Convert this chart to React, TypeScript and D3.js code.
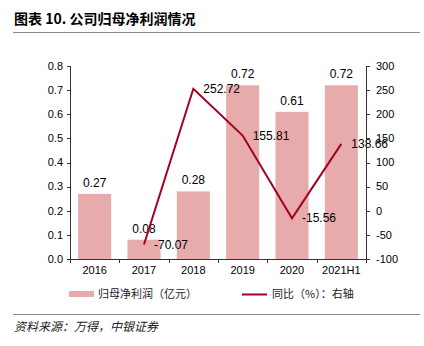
import React from "react";
import * as d3 from "d3";

const categories = ["2016", "2017", "2018", "2019", "2020", "2021H1"];
const profit = [0.27, 0.08, 0.28, 0.72, 0.61, 0.72];
const yoy: (number | null)[] = [null, -70.07, 252.72, 155.81, -15.56, 138.66];
const leftTicks = [0, 0.1, 0.2, 0.3, 0.4, 0.5, 0.6, 0.7, 0.8];
const rightTicks = [-100, -50, 0, 50, 100, 150, 200, 250, 300];

const W = 424, H = 346;
const m = { l: 70, r: 366, t: 66, b: 259 };
const BAR = "#E8ABAB";
const LINE = "#A50021";
const FONT = "Arial, 'Liberation Sans', sans-serif";
const CJK = "'Noto Sans CJK SC', sans-serif";

export default function App() {
  const x = d3.scaleBand<string>().domain(categories).range([m.l, m.r]).paddingInner(0.33).paddingOuter(0.165);
  const xb = d3.scaleBand<string>().domain(categories).range([m.l, m.r]);
  const yl = d3.scaleLinear().domain([0, 0.8]).range([m.b, m.t]);
  const yr = d3.scaleLinear().domain([-100, 300]).range([m.b, m.t]);
  const pts = categories
    .map((c, i) => ({ c, v: yoy[i] }))
    .filter((d) => d.v !== null) as { c: string; v: number }[];
  const line = d3
    .line<{ c: string; v: number }>()
    .x((d) => (xb(d.c) as number) + xb.bandwidth() / 2)
    .y((d) => yr(d.v));
  return (
    <svg width={W} height={H} style={{ position: "absolute", left: 0, top: 0, background: "#fff" }}>
      <text x={14} y={24} fontFamily={CJK} fontWeight="bold" fontSize={14} fill="#000">
        图表 10. 公司归母净利润情况
      </text>
      <line x1={13} x2={420} y1={32.5} y2={32.5} stroke="#888" strokeWidth={1.2} />
      {categories.map((c, i) => (
        <g key={c}>
          <rect x={x(c)} y={yl(profit[i])} width={x.bandwidth()} height={m.b - yl(profit[i])} fill={BAR} />
          <text x={(x(c) as number) + x.bandwidth() / 2} y={yl(profit[i]) - 7} textAnchor="middle" fontFamily={FONT} fontSize={12} fill="#000">
            {profit[i].toFixed(2)}
          </text>
        </g>
      ))}
      <path d={line(pts) || ""} fill="none" stroke={LINE} strokeWidth={2} />
      {pts.map((d) => (
        <text key={d.c} x={(xb(d.c) as number) + xb.bandwidth() / 2 + 10} y={yr(d.v)} dy="0.35em" fontFamily={FONT} fontSize={12} fill="#000">
          {d.v.toFixed(2)}
        </text>
      ))}
      {/* left axis */}
      <line x1={m.l + 0.5} x2={m.l + 0.5} y1={m.t} y2={m.b} stroke="#333" />
      {leftTicks.map((t) => (
        <g key={t}>
          <line x1={m.l - 3} x2={m.l} y1={Math.round(yl(t)) + 0.5} y2={Math.round(yl(t)) + 0.5} stroke="#333" />
          <text x={m.l - 7} y={yl(t)} dy="0.35em" textAnchor="end" fontFamily={FONT} fontSize={11} fill="#000">
            {t.toFixed(1)}
          </text>
        </g>
      ))}
      {/* right axis */}
      <line x1={m.r + 0.5} x2={m.r + 0.5} y1={m.t} y2={m.b} stroke="#333" />
      {rightTicks.map((t) => (
        <g key={t}>
          <line x1={m.r} x2={m.r + 4} y1={Math.round(yr(t)) + 0.5} y2={Math.round(yr(t)) + 0.5} stroke="#333" />
          <text x={m.r + 10} y={yr(t)} dy="0.35em" textAnchor="start" fontFamily={FONT} fontSize={11} fill="#000">
            {t}
          </text>
        </g>
      ))}
      {/* x axis */}
      <line x1={m.l} x2={m.r} y1={m.b + 0.5} y2={m.b + 0.5} stroke="#333" />
      {categories.map((c, i) => (
        <g key={c}>
          <line x1={Math.round(xb(c) as number) + 0.5} x2={Math.round(xb(c) as number) + 0.5} y1={m.b} y2={m.b + 4} stroke="#333" />
          {i === categories.length - 1 && (
            <line x1={m.r + 0.5} x2={m.r + 0.5} y1={m.b} y2={m.b + 4} stroke="#333" />
          )}
          <text x={(xb(c) as number) + xb.bandwidth() / 2} y={m.b + 11} dy="0.35em" textAnchor="middle" fontFamily={FONT} fontSize={11} fill="#000">
            {c}
          </text>
        </g>
      ))}
      {/* legend */}
      <rect x={69} y={291} width={25} height={6} fill={BAR} />
      <text x={98} y={294} dy="0.35em" fontFamily={CJK} fontSize={11} fill="#222">归母净利润（亿元）</text>
      <line x1={242} x2={267} y1={294.5} y2={294.5} stroke={LINE} strokeWidth={2} />
      <text x={272} y={294} dy="0.35em" fontFamily={CJK} fontSize={11} fill="#222">同比（%）：右轴</text>
      <line x1={13} x2={420} y1={314.5} y2={314.5} stroke="#888" strokeWidth={1.2} />
      <text x={14} y={331} fontFamily={CJK} fontStyle="italic" fontSize={12} fill="#222">资料来源：万得，中银证券</text>
    </svg>
  );
}
